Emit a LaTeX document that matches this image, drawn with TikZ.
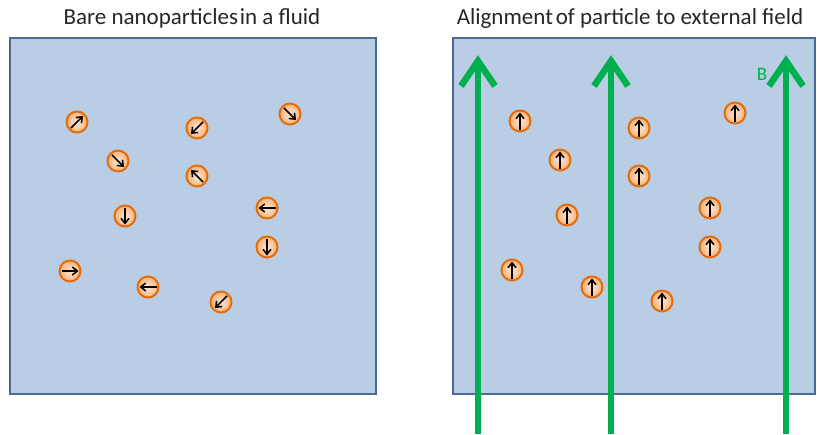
\documentclass[tikz,border=0pt]{standalone}
\usepackage{fontspec}
\setmainfont{Carlito}
\usetikzlibrary{calc,arrows.meta}
\definecolor{fluid}{HTML}{B9CDE5}
\definecolor{frame}{HTML}{4A6A94}
\definecolor{field}{HTML}{00B050}
\definecolor{ring}{HTML}{E46C0A}
\definecolor{core}{HTML}{F9B47C}
\begin{document}
\begin{tikzpicture}[x=1pt,y=-1pt,
  fluidbox/.style={fill=fluid,draw=frame,line width=2pt},
  particle/.style={circle,minimum size=21pt,inner sep=0pt,outer sep=0pt,
    draw=ring,line width=2pt,inner color=core!35!white,outer color=core},
  moment/.style={line width=1.5pt,shorten <=2pt,shorten >=2pt,
    -{Straight Barb[length=5pt,width=8pt,line width=1.5pt]}},
  fieldline/.style={draw=field,line width=6.5pt},
  title/.style={font=\fontsize{23}{27}\selectfont,text=black!85}
]
\useasboundingbox (0,0) rectangle (817,434);

% titles
\node[title] (t1) at (192,18) {Bare nanoparticles\hspace{-0.15em} in a fluid};
\node[title] (t2) at (630,18) {Alignment\hspace{-0.1em} of particle to external field};

% the two fluid cells
\draw[fluidbox] (10,38) rectangle (376,394);
\draw[fluidbox] (453,38) rectangle (815,394);

% randomly oriented particles
\foreach \n/\x/\y/\a in {l1/77/122/45, l2/118/161/315, l3/197/128/225,
    l4/290/114/315, l5/197/176/135, l6/125/216/270, l7/267/208/180,
    l8/267/247/270, l9/70/271/0, l10/148/287/180, l11/221/302/225}{
  \node[particle] (\n) at (\x,\y) {};
  \pgfmathtruncatemacro\b{mod(\a+180,360)}
  \draw[moment] (\n.\b) -- (\n.\a);
}

% external field lines
\foreach \f/\x in {f1/478, f2/611, f3/786}{
  \coordinate (\f s) at (\x,434);
  \coordinate (\f e) at (\x,61);
  \draw[fieldline] (\f s) -- (\f e);
  \draw[fieldline,line join=miter] ($(\f e)+(-17,25)$) -- (\f e) -- ($(\f e)+(17,25)$);
}
\node[text=field,font=\fontsize{19}{22}\selectfont] (B) at (762,74) {B};

% aligned particles
\foreach \n/\x/\y in {r1/520/121, r2/560/160, r3/567/215, r4/512/270,
    r5/592/287, r6/639/128, r7/639/176, r8/735/113, r9/710/208,
    r10/710/247, r11/662/301}{
  \node[particle] (\n) at (\x,\y) {};
  \draw[moment] (\n.270) -- (\n.90);
}
\end{tikzpicture}
\end{document}
